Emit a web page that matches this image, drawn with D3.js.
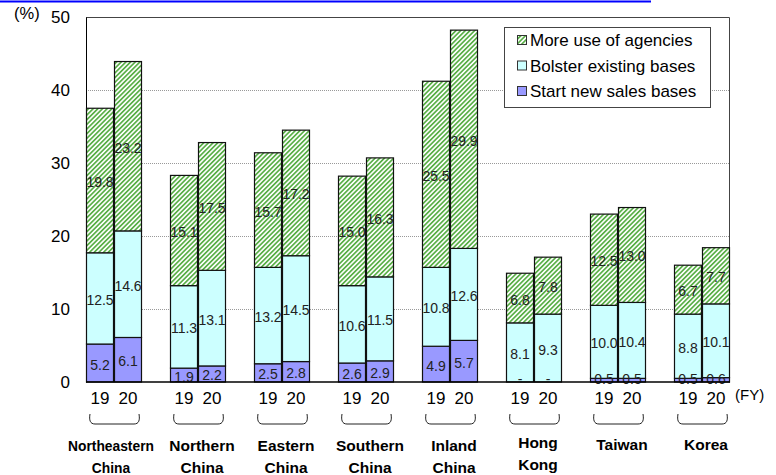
<!DOCTYPE html>
<html>
<head>
<meta charset="utf-8">
<script src="https://cdn.jsdelivr.net/npm/d3@7"></script>
<style>
  body { margin: 0; background: #fff; }
  svg { display: block; font-family: "Liberation Sans", Arial, sans-serif; }
</style>
</head>
<body>
<svg id="chart" width="776" height="475"></svg>
<script>
// Regions and fiscal years
const regions = ["Northeastern\nChina", "Northern\nChina", "Eastern\nChina", "Southern\nChina",
                 "Inland\nChina", "Hong\nKong", "Taiwan", "Korea"];
const years = ["19", "20"];

// Share of firms (%) by measure, per region: [FY19, FY20]; null = no response ("-")
const startNew  = [[5.2, 6.1], [1.9, 2.2], [2.5, 2.8], [2.6, 2.9], [4.9, 5.7], [null, null], [0.5, 0.5], [0.5, 0.6]];
const bolster   = [[12.5, 14.6], [11.3, 13.1], [13.2, 14.5], [10.6, 11.5], [10.8, 12.6], [8.1, 9.3], [10.0, 10.4], [8.8, 10.1]];
const agencies  = [[19.8, 23.2], [15.1, 17.5], [15.7, 17.2], [15.0, 16.3], [25.5, 29.9], [6.8, 7.8], [12.5, 13.0], [6.7, 7.7]];

const seriesNames = ["Start new sales bases", "Bolster existing bases", "More use of agencies"];
const yTicks = [0, 10, 20, 30, 40, 50];

const svg = d3.select("#chart");
const margin = { left: 86, right: 46, top: 17, bottom: 93 };
const W = 776, H = 475;
const x0 = margin.left, x1 = W - margin.right;
const yTop = margin.top, yBot = H - margin.bottom;

// Hatched fill for "More use of agencies"
const defs = svg.append("defs");
const pat = defs.append("pattern")
  .attr("id", "hatch")
  .attr("patternUnits", "userSpaceOnUse")
  .attr("width", 3.3).attr("height", 3.3)
  .attr("patternTransform", "rotate(45)");
pat.append("rect").attr("width", 3.3).attr("height", 3.3).attr("fill", "#fff");
pat.append("rect").attr("x", 0).attr("y", 0).attr("width", 1.7).attr("height", 3.3).attr("fill", "#5aaf48");

const fills = ["#9999ff", "#ccffff", "url(#hatch)"];

// Header rule
svg.append("line").attr("x1", 0).attr("x2", 651).attr("y1", 1.5).attr("y2", 1.5)
  .attr("stroke", "#0000ff").attr("stroke-width", 2);

// Scales
const xGroup = d3.scaleBand().domain(regions.map((d, i) => i)).range([x0, x1])
  .paddingInner(1 / 3).paddingOuter(0);
const xYear = d3.scaleBand().domain(years).range([0, xGroup.bandwidth()]);
const y = d3.scaleLinear().domain([0, 50]).range([yBot, yTop]);

// Gridlines
svg.append("g").selectAll("line").data(yTicks.filter(t => t > 0 && t < 50)).join("line")
  .attr("x1", x0).attr("x2", x1)
  .attr("y1", d => Math.round(y(d)) + 0.5).attr("y2", d => Math.round(y(d)) + 0.5)
  .attr("stroke", "#999").attr("stroke-dasharray", "1,1");

// Plot frame (top and right)
svg.append("path")
  .attr("d", `M${x0},${yTop + 0.5}H${x1 - 0.5}V${yBot}`)
  .attr("fill", "none").attr("stroke", "#444").attr("stroke-width", 1);

// Y axis
const yAxis = d3.axisLeft(y).tickValues(yTicks).tickSize(0).tickPadding(16);
const gy = svg.append("g").attr("transform", `translate(${x0},0)`).call(yAxis);
gy.select(".domain").attr("stroke", "#000");
gy.selectAll("text").attr("font-size", 17).attr("fill", "#000")
  .attr("font-family", "Liberation Sans, Arial, sans-serif");
svg.append("text").attr("x", 14).attr("y", 19).attr("font-size", 16.5).text("(%)");

// Build stacked records
const records = [];
regions.forEach((r, gi) => {
  years.forEach((yr, yi) => {
    const vals = [startNew[gi][yi], bolster[gi][yi], agencies[gi][yi]];
    let acc = 0;
    vals.forEach((v, si) => {
      const val = v == null ? 0 : v;
      records.push({ gi, yr, si, v, y0: acc, y1: acc + val });
      acc += val;
    });
  });
});

const bars = svg.append("g");
bars.selectAll("rect").data(records.filter(d => d.v != null)).join("rect")
  .attr("x", d => xGroup(d.gi) + xYear(d.yr) + 0.5)
  .attr("width", xYear.bandwidth() - 1)
  .attr("y", d => y(d.y1))
  .attr("height", d => y(d.y0) - y(d.y1))
  .attr("fill", d => fills[d.si])
  .attr("stroke", "#111").attr("stroke-width", 1.2);

// Value labels
svg.append("g").selectAll("text").data(records).join("text")
  .attr("x", d => xGroup(d.gi) + xYear(d.yr) + xYear.bandwidth() / 2)
  .attr("y", d => Math.min((y(d.y0) + y(d.y1)) / 2 + 6.5, yBot + 2))
  .attr("text-anchor", "middle")
  .attr("font-size", 14).attr("fill", "#222")
  .text(d => d.v == null ? "-" : d3.format(".1f")(d.v));

// Baseline
svg.append("line").attr("x1", x0).attr("x2", x1).attr("y1", yBot).attr("y2", yBot)
  .attr("stroke", "#000").attr("stroke-width", 1.5);

// Year tick labels, braces and region names
const xl = svg.append("g");
regions.forEach((r, gi) => {
  years.forEach(yr => {
    xl.append("text")
      .attr("x", xGroup(gi) + xYear(yr) + xYear.bandwidth() / 2)
      .attr("y", 404).attr("text-anchor", "middle").attr("font-size", 17)
      .text(yr);
  });
  const cx = xGroup(gi) + xGroup.bandwidth() / 2;
  const a = cx - 24, b = cx + 25;
  xl.append("path")
    .attr("d", `M${a},${414}C${a - 1},${420} ${a},${424} ${a + 5},${424}H${b - 5}C${b},${424} ${b + 1},${420} ${b},${414}`)
    .attr("fill", "none").attr("stroke", "#222").attr("stroke-width", 1);
  const lines = r.split("\n");
  const small = gi === 0;
  const single = lines.length === 1;
  lines.forEach((ln, li) => {
    xl.append("text")
      .attr("x", cx + (small ? -3 : 4))
      .attr("y", (single ? 450 : 451) + li * 22 - (gi === 5 ? 3 : 0))
      .attr("text-anchor", "middle")
      .attr("font-size", small ? 13.8 : 15.5).attr("font-weight", "bold")
      .text(ln);
  });
});
svg.append("text").attr("x", 735).attr("y", 400).attr("font-size", 15).text("(FY)");

// Legend
const lg = svg.append("g");
lg.append("rect").attr("x", 504.5).attr("y", 27.5).attr("width", 206).attr("height", 80)
  .attr("fill", "#fff").attr("stroke", "#444");
const legendOrder = [2, 1, 0];
legendOrder.forEach((si, i) => {
  const by = 46 + i * 25.5;
  lg.append("rect").attr("x", 517.5).attr("y", by - 10.5).attr("width", 9).attr("height", 9)
    .attr("fill", fills[si]).attr("stroke", "#333");
  lg.append("text").attr("x", 530).attr("y", by).attr("font-size", 17).text(seriesNames[si]);
});
</script>
</body>
</html>
